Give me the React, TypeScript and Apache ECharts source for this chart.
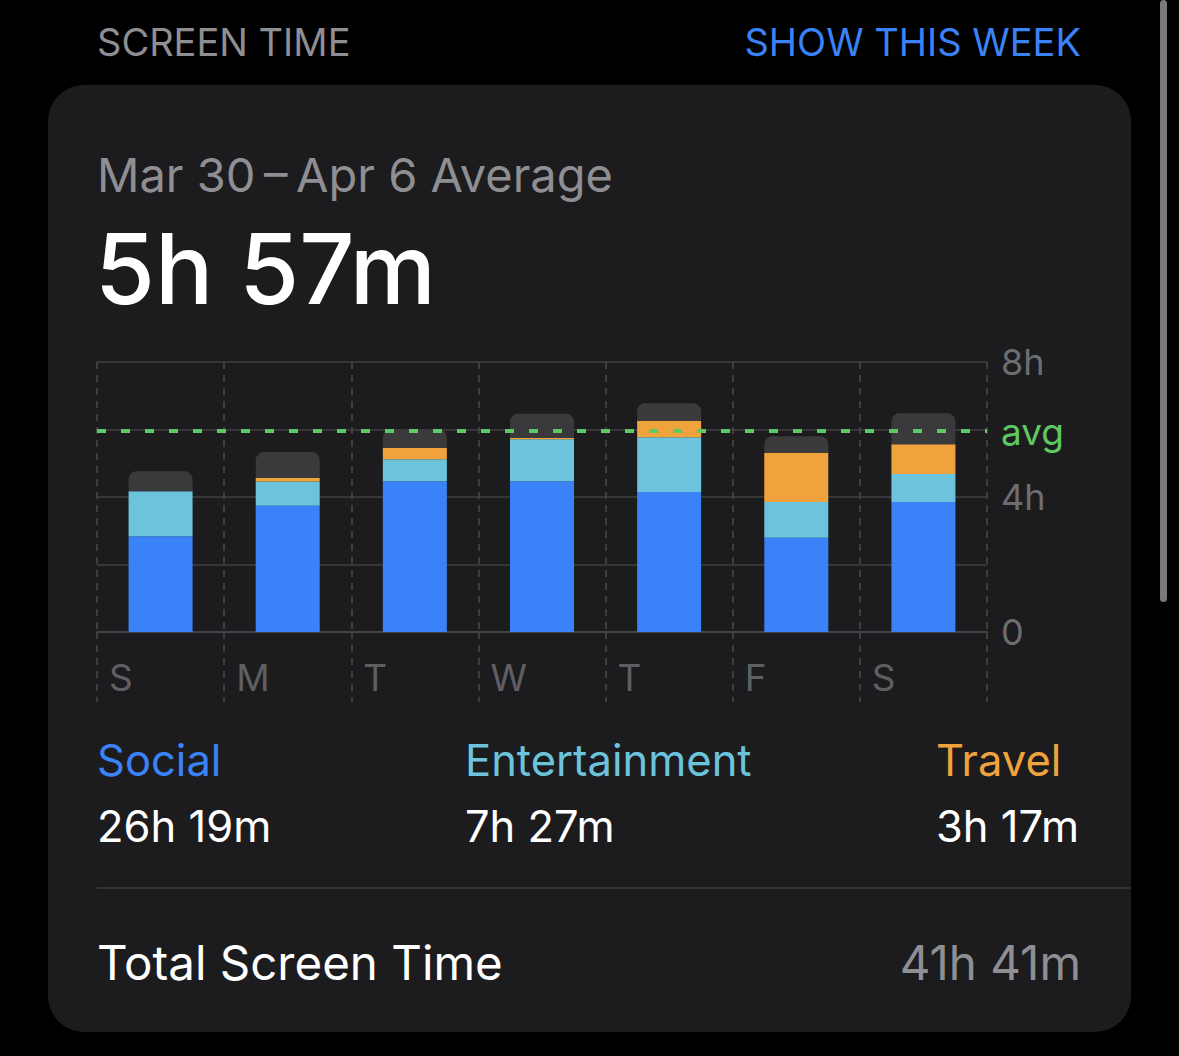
import React, { useEffect, useRef } from "react";
import * as echarts from "echarts";

const days = ["S", "M", "T", "W", "T", "F", "S"];
const social = [2.84, 3.74, 4.47, 4.47, 4.15, 2.79, 3.85];
const entertainment = [1.33, 0.72, 0.65, 1.24, 1.62, 1.06, 0.83];
const travel = [0, 0.11, 0.33, 0.04, 0.49, 1.46, 0.88];
const other = [0.59, 0.76, 0.56, 0.72, 0.52, 0.49, 0.92];
const average = 5.95;
const yTickLabels: Record<number, string> = { 0: "0", 4: "4h", 8: "8h" };

const categoryTotals = [
  { name: "Social", value: "26h 19m", color: "#3b82f6" },
  { name: "Entertainment", value: "7h 27m", color: "#6cc4dc" },
  { name: "Travel", value: "3h 17m", color: "#f0a33c" },
];

const FONT = "Inter, 'Noto Sans', sans-serif";

export default function App() {
  const ref = useRef<HTMLDivElement>(null);
  useEffect(() => {
    document.body.style.margin = "0";
    document.body.style.background = "#000";
    const chart = echarts.init(ref.current!, null, { renderer: "svg" });
    const vSplit = {
      show: true,
      lineStyle: { color: "#4a4a4d", type: [7, 6] as any, width: 1.5 },
    };
    const barBase = {
      type: "bar",
      stack: "day",
      barWidth: 64,
      xAxisIndex: 0,
      yAxisIndex: 0,
    };
    const option: any = {
      backgroundColor: "#000",
      animation: false,
      textStyle: { fontFamily: FONT },
      grid: [
        { left: 97, top: 362, width: 890, height: 270 },
        { left: 97, top: 632, width: 890, height: 70 },
      ],
      xAxis: [
        {
          type: "category",
          gridIndex: 0,
          data: days,
          boundaryGap: true,
          axisLine: { show: true, lineStyle: { color: "#4a4a4d", width: 1.5 } },
          axisTick: { show: false },
          axisLabel: { show: false },
          splitLine: vSplit,
        },
        {
          type: "category",
          gridIndex: 1,
          data: [...days, ""],
          boundaryGap: false,
          position: "top",
          axisLine: { show: false },
          axisTick: { show: false },
          axisLabel: {
            show: true,
            inside: true,
            interval: 0,
            margin: 45,
            align: "left",
            verticalAlign: "middle",
            padding: [0, 0, 0, 12],
            fontSize: 37,
            color: "#5f5f63",
            fontFamily: FONT,
          },
          splitLine: vSplit,
        },
      ],
      yAxis: [
        {
          type: "value",
          gridIndex: 0,
          min: 0,
          max: 8,
          interval: 2,
          position: "right",
          axisLine: { show: false },
          axisTick: { show: false },
          axisLabel: {
            margin: 14,
            fontSize: 36,
            color: "#6d6d71",
            fontFamily: FONT,
            formatter: (v: number) => yTickLabels[v] ?? "",
          },
          splitLine: { show: true, lineStyle: { color: "#404043", width: 1.5 } },
        },
        { type: "value", gridIndex: 1, show: false },
      ],
      series: [
        {
          ...barBase,
          name: "Social",
          data: social,
          itemStyle: { color: "#3a82f7" },
          markLine: {
            silent: true,
            symbol: ["none", "none"],
            z: 10,
            data: [{ yAxis: average }],
            lineStyle: { color: "#5fc862", type: [9, 15], width: 4 },
            label: {
              show: true,
              position: "end",
              formatter: "avg",
              color: "#5fc862",
              fontSize: 37,
              distance: 14,
              fontFamily: FONT,
            },
          },
        },
        { ...barBase, name: "Entertainment", data: entertainment, itemStyle: { color: "#6bc4dc" } },
        { ...barBase, name: "Travel", data: travel, itemStyle: { color: "#f0a33c" } },
        {
          ...barBase,
          name: "Other",
          data: other,
          itemStyle: { color: "#3a3a3c", borderRadius: [8, 8, 0, 0] },
        },
      ],
      graphic: [
        {
          type: "rect",
          z: -5,
          shape: { x: 48, y: 85, width: 1083, height: 947, r: 36 },
          style: { fill: "#1c1c1e" },
        },
        {
          type: "rect",
          z: -5,
          shape: { x: 1160, y: 0, width: 7, height: 602, r: 3.5 },
          style: { fill: "#7a7a7e" },
        },
        {
          type: "text",
          x: 97,
          y: 42,
          style: { text: "SCREEN TIME", fill: "#8e8e93", font: `38px ${FONT}`, verticalAlign: "middle" },
        },
        {
          type: "text",
          x: 1081,
          y: 42,
          style: { text: "SHOW THIS WEEK", fill: "#3b82f6", font: `38px ${FONT}`, align: "right", verticalAlign: "middle" },
        },
        {
          type: "text",
          x: 97,
          y: 174,
          style: { text: "Mar 30\u2009–\u2009Apr 6 Average", fill: "#8e8e93", font: `47px ${FONT}`, verticalAlign: "middle" },
        },
        {
          type: "text",
          x: 95,
          y: 268,
          style: { text: "5h 57m", fill: "#ffffff", font: `500 97px ${FONT}`, verticalAlign: "middle" },
        },
        {
          type: "text",
          x: 97,
          y: 760,
          style: { text: categoryTotals[0].name, fill: categoryTotals[0].color, font: `43.5px ${FONT}`, verticalAlign: "middle" },
        },
        {
          type: "text",
          x: 465,
          y: 760,
          style: { text: categoryTotals[1].name, fill: categoryTotals[1].color, font: `43.5px ${FONT}`, verticalAlign: "middle" },
        },
        {
          type: "text",
          x: 936,
          y: 760,
          style: { text: categoryTotals[2].name, fill: categoryTotals[2].color, font: `43.5px ${FONT}`, verticalAlign: "middle" },
        },
        {
          type: "text",
          x: 97,
          y: 826,
          style: { text: categoryTotals[0].value, fill: "#ffffff", font: `43.5px ${FONT}`, verticalAlign: "middle" },
        },
        {
          type: "text",
          x: 465,
          y: 826,
          style: { text: categoryTotals[1].value, fill: "#ffffff", font: `43.5px ${FONT}`, verticalAlign: "middle" },
        },
        {
          type: "text",
          x: 936,
          y: 826,
          style: { text: categoryTotals[2].value, fill: "#ffffff", font: `43.5px ${FONT}`, verticalAlign: "middle" },
        },
        {
          type: "line",
          shape: { x1: 97, y1: 888, x2: 1131, y2: 888 },
          style: { stroke: "#3a3a3c", lineWidth: 1.5 },
        },
        {
          type: "text",
          x: 97,
          y: 962,
          style: { text: "Total Screen Time", fill: "#ffffff", font: `47.5px ${FONT}`, verticalAlign: "middle" },
        },
        {
          type: "text",
          x: 1081,
          y: 962,
          style: { text: "41h 41m", fill: "#8e8e93", font: `47.5px ${FONT}`, align: "right", verticalAlign: "middle" },
        },
      ],
    };
    chart.setOption(option);
    return () => chart.dispose();
  }, []);
  return (
    <div
      ref={ref}
      style={{ position: "fixed", left: 0, top: 0, width: 1179, height: 1056, background: "#000" }}
    />
  );
}
